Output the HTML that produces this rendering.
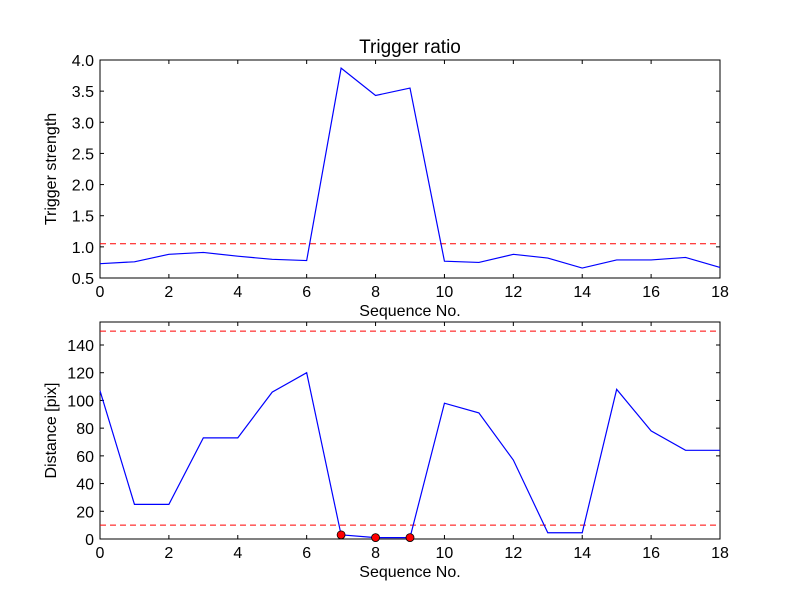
<!DOCTYPE html>
<html><head><meta charset="utf-8"><style>body{margin:0;background:#fff}svg{font-family:"Liberation Sans","DejaVu Sans",sans-serif}</style></head>
<body>
<svg id="c" width="800" height="600" viewBox="0 0 800 600"></svg>
<script>
const seq=[0,1,2,3,4,5,6,7,8,9,10,11,12,13,14,15,16,17,18];
const ratio=[0.73,0.76,0.88,0.91,0.85,0.80,0.78,3.87,3.43,3.55,0.77,0.75,0.88,0.82,0.66,0.79,0.79,0.83,0.67];
const ratioThresh=1.05;
const dist=[107,25,25,73,73,106,120,3,1,1,98,91,57,4.5,4.5,108,78,64,64];
const distThresh=[10,150];
const flagged=[7,8,9];
const xTicks=[0,2,4,6,8,10,12,14,16,18];
const yTicksTop=[0.5,1.0,1.5,2.0,2.5,3.0,3.5,4.0];
const yTicksBot=[0,20,40,60,80,100,120,140];
const NS="http://www.w3.org/2000/svg";
const svg=document.getElementById('c');
function mk(t,a,p){const e=document.createElementNS(NS,t);for(const k in a)e.setAttribute(k,a[k]);(p||svg).appendChild(e);return e;}
const L=100,R=720;
const xs=v=>L+(v-0)/18*(R-L);
function panel(top,bot,ymin,ymax,yt,fmt,ylab,name){
  const ys=v=>bot-(v-ymin)/(ymax-ymin)*(bot-top);
  const g=mk('g',{});
  
  
  const fr=mk('rect',{x:L,y:top,width:R-L,height:bot-top,fill:'none',stroke:'#000','stroke-width':1},g);
  
  xTicks.forEach(v=>{const x=xs(v);
    mk('line',{x1:x,x2:x,y1:bot,y2:bot-4,stroke:'#000'},g);mk('line',{x1:x,x2:x,y1:top,y2:top+4,stroke:'#000'},g);
    const t=mk('text',{x:x,y:bot+19,'font-size':16,'text-anchor':'middle'},g);t.textContent=v;
    });
  yt.forEach(v=>{const y=ys(v);
    mk('line',{x1:L,x2:L+4,y1:y,y2:y,stroke:'#000'},g);mk('line',{x1:R,x2:R-4,y1:y,y2:y,stroke:'#000'},g);
    const t=mk('text',{x:L-6,y:y+6,'font-size':16,'text-anchor':'end'},g);t.textContent=fmt(v);
    });
  const xl=mk('text',{x:410,y:bot+38,'font-size':16,'text-anchor':'middle'},g);xl.textContent='Sequence No.';
  
  const cy=(top+bot)/2;
  const yl=mk('text',{x:56,y:cy,'font-size':16,'text-anchor':'middle',transform:`rotate(-90 56 ${cy})`},g);yl.textContent=ylab;
  
  return {g,ys};
}
const p1=panel(60,278,0.5,4.0,yTicksTop,v=>v.toFixed(1),'Trigger strength','top-panel');
const t=mk('text',{x:410,y:53,'font-size':19,'text-anchor':'middle'});t.textContent='Trigger ratio';

const th=mk('line',{x1:L,x2:R,y1:p1.ys(ratioThresh),y2:p1.ys(ratioThresh),stroke:'#f00','stroke-dasharray':'6,4'},p1.g);

const l1=mk('polyline',{points:seq.map((s,i)=>xs(s)+','+p1.ys(ratio[i])).join(' '),fill:'none',stroke:'#00f','stroke-width':1.2},p1.g);


const p2=panel(322,539,0,156.6,yTicksBot,v=>v,'Distance [pix]','bottom-panel');
distThresh.forEach(v=>{const y=p2.ys(v);const l=mk('line',{x1:L,x2:R,y1:y,y2:y,stroke:'#f00','stroke-dasharray':'6,4'},p2.g);
  });
const l2=mk('polyline',{points:seq.map((s,i)=>xs(s)+','+p2.ys(dist[i])).join(' '),fill:'none',stroke:'#00f','stroke-width':1.2},p2.g);

flagged.forEach(s=>{const c=mk('circle',{cx:xs(s),cy:p2.ys(dist[s]),r:4,fill:'#f00',stroke:'#000','stroke-width':0.8},p2.g);
  });
</script>
</body></html>
